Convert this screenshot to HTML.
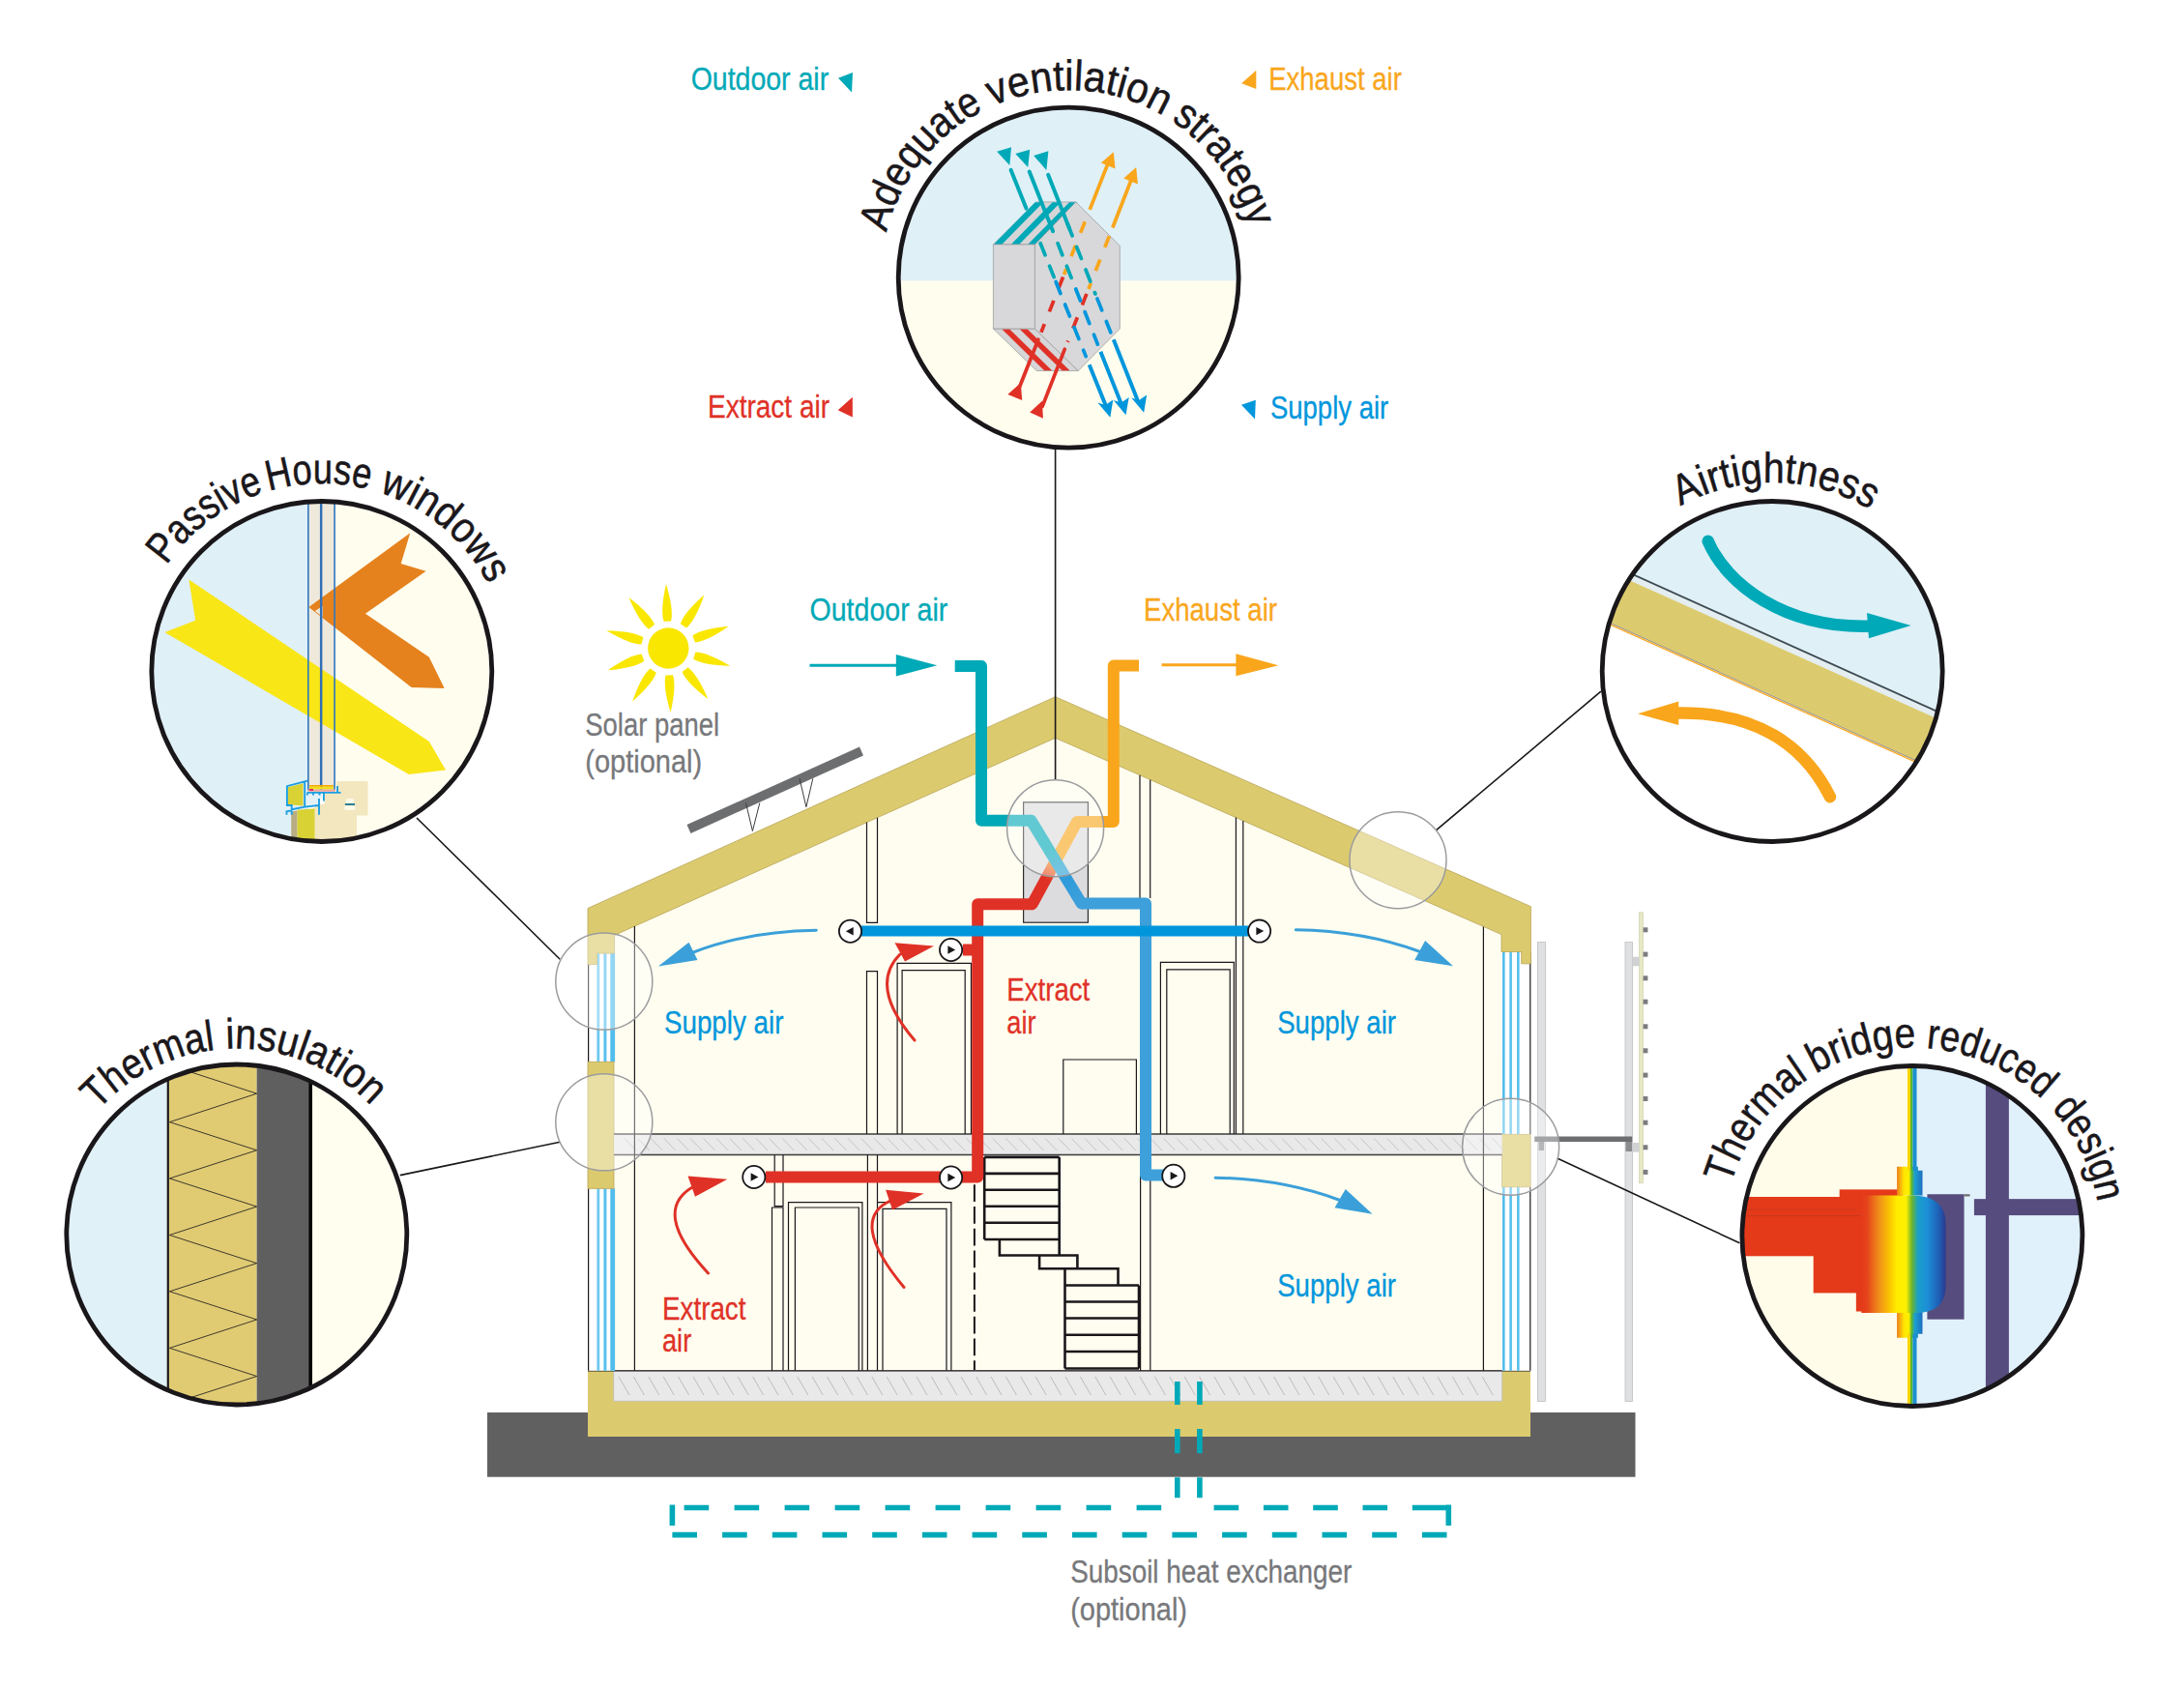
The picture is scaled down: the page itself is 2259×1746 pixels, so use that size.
<!DOCTYPE html>
<html><head><meta charset="utf-8"><title>Passive House principles</title>
<style>html,body{margin:0;padding:0;background:#fff}svg{display:block}</style></head>
<body><svg width="2259" height="1746" viewBox="0 0 2259 1746">
<rect width="2259" height="1746" fill="#fff"/>
<defs>
<linearGradient id="gTB" gradientUnits="userSpaceOnUse" x1="1065" y1="849" x2="1118" y2="935"><stop offset="0" stop-color="#00a9b7"/><stop offset="0.35" stop-color="#00a9b7"/><stop offset="0.7" stop-color="#2f9bdb"/><stop offset="1" stop-color="#3ea0da"/></linearGradient>
<linearGradient id="gOR" gradientUnits="userSpaceOnUse" x1="1114" y1="850" x2="1068" y2="935"><stop offset="0" stop-color="#f9a61c"/><stop offset="0.45" stop-color="#f9a61c"/><stop offset="0.7" stop-color="#e03127"/><stop offset="1" stop-color="#e03127"/></linearGradient>
</defs>
<rect x="504" y="1461" width="1187.5" height="66.7" fill="#616061"/>
<polygon points="635.5,1418 635.5,967.4 1091.6,763.3 1553,966.6 1553.6,1418" fill="#fffdef"/>
<rect x="608" y="1417.8" width="975" height="68.2" fill="#dccb6e"/>
<rect x="634.8" y="1417.8" width="918.9" height="31.4" fill="#e9e9ea" stroke="#bdbdbd" stroke-width="0.8"/>
<path d="M640.0 1424L651.0 1443M655.4 1424L666.4 1443M670.8 1424L681.8 1443M686.2 1424L697.2 1443M701.6 1424L712.6 1443M717.0 1424L728.0 1443M732.4 1424L743.4 1443M747.8 1424L758.8 1443M763.2 1424L774.2 1443M778.6 1424L789.6 1443M794.0 1424L805.0 1443M809.4 1424L820.4 1443M824.8 1424L835.8 1443M840.2 1424L851.2 1443M855.6 1424L866.6 1443M871.0 1424L882.0 1443M886.4 1424L897.4 1443M901.8 1424L912.8 1443M917.2 1424L928.2 1443M932.6 1424L943.6 1443M948.0 1424L959.0 1443M963.4 1424L974.4 1443M978.8 1424L989.8 1443M994.2 1424L1005.2 1443M1009.6 1424L1020.6 1443M1025.0 1424L1036.0 1443M1040.4 1424L1051.4 1443M1055.8 1424L1066.8 1443M1071.2 1424L1082.2 1443M1086.6 1424L1097.6 1443M1102.0 1424L1113.0 1443M1117.4 1424L1128.4 1443M1132.8 1424L1143.8 1443M1148.2 1424L1159.2 1443M1163.6 1424L1174.6 1443M1179.0 1424L1190.0 1443M1194.4 1424L1205.4 1443M1209.8 1424L1220.8 1443M1225.2 1424L1236.2 1443M1240.6 1424L1251.6 1443M1256.0 1424L1267.0 1443M1271.4 1424L1282.4 1443M1286.8 1424L1297.8 1443M1302.2 1424L1313.2 1443M1317.6 1424L1328.6 1443M1333.0 1424L1344.0 1443M1348.4 1424L1359.4 1443M1363.8 1424L1374.8 1443M1379.2 1424L1390.2 1443M1394.6 1424L1405.6 1443M1410.0 1424L1421.0 1443M1425.4 1424L1436.4 1443M1440.8 1424L1451.8 1443M1456.2 1424L1467.2 1443M1471.6 1424L1482.6 1443M1487.0 1424L1498.0 1443M1502.4 1424L1513.4 1443M1517.8 1424L1528.8 1443M1533.2 1424L1544.2 1443" stroke="#bcbcbc" stroke-width="1" fill="none"/>
<path d="M608 1417.8H1583" stroke="#1a171b" stroke-width="1.3"/>
<rect x="608" y="986.1" width="28" height="112.19999999999993" fill="#fff"/>
<rect x="617.4" y="986.1" width="2.8" height="112.19999999999993" fill="#6cc8f0"/>
<rect x="624.4" y="986.1" width="3" height="112.19999999999993" fill="#58c0ee"/>
<rect x="631.3" y="986.1" width="4.8" height="112.19999999999993" fill="#52bdec"/>
<path d="M608.6 986.1V1098.3" stroke="#1a171b" stroke-width="1.2"/>
<rect x="608" y="1229.3" width="28" height="188.5" fill="#fff"/>
<rect x="617.4" y="1229.3" width="2.8" height="188.5" fill="#6cc8f0"/>
<rect x="624.4" y="1229.3" width="3" height="188.5" fill="#58c0ee"/>
<rect x="631.3" y="1229.3" width="4.8" height="188.5" fill="#52bdec"/>
<path d="M608.6 1229.3V1417.8" stroke="#1a171b" stroke-width="1.2"/>
<rect x="1553.6" y="984.5" width="29.4" height="188.79999999999995" fill="#fff"/>
<rect x="1554" y="984.5" width="2.6" height="188.79999999999995" fill="#52bdec"/>
<rect x="1561.3" y="984.5" width="2.6" height="188.79999999999995" fill="#58c0ee"/>
<rect x="1569" y="984.5" width="2.6" height="188.79999999999995" fill="#58c0ee"/>
<path d="M1582.8 984.5V1173.3" stroke="#1a171b" stroke-width="1.2"/>
<rect x="1553.6" y="1227.8" width="29.4" height="190.0" fill="#fff"/>
<rect x="1554" y="1227.8" width="2.6" height="190.0" fill="#52bdec"/>
<rect x="1561.3" y="1227.8" width="2.6" height="190.0" fill="#58c0ee"/>
<rect x="1569" y="1227.8" width="2.6" height="190.0" fill="#58c0ee"/>
<path d="M1582.8 1227.8V1417.8" stroke="#1a171b" stroke-width="1.2"/>
<polygon points="608,939.5 1091.6,720.7 1583.4,937.7 1583.4,996.8 1573.7,996.8 1573.7,984.5 1553,984.5 1553,966.6 1091.6,763.3 635.5,967.4 635.5,986.1 617.4,986.1 617.4,997.6 608,997.6" fill="#dccb6e" stroke="#b9a457" stroke-width="0.8"/>
<rect x="608" y="1098.3" width="27" height="131" fill="#dccb6e" stroke="#b9a457" stroke-width="0.8"/>
<rect x="1553.6" y="1173.3" width="29.5" height="54.5" fill="#dccb6e" stroke="#b9a457" stroke-width="0.8"/>
<rect x="635" y="1173" width="918.6" height="21.5" fill="#e9e9ea"/>
<path d="M646.0 1177.5L658.0 1190M659.6 1177.5L671.6 1190M673.2 1177.5L685.2 1190M686.8 1177.5L698.8 1190M700.4 1177.5L712.4 1190M714.0 1177.5L726.0 1190M727.6 1177.5L739.6 1190M741.2 1177.5L753.2 1190M754.8 1177.5L766.8 1190M768.4 1177.5L780.4 1190M782.0 1177.5L794.0 1190M795.6 1177.5L807.6 1190M809.2 1177.5L821.2 1190M822.8 1177.5L834.8 1190M836.4 1177.5L848.4 1190M850.0 1177.5L862.0 1190M863.6 1177.5L875.6 1190M877.2 1177.5L889.2 1190M890.8 1177.5L902.8 1190M904.4 1177.5L916.4 1190M918.0 1177.5L930.0 1190M931.6 1177.5L943.6 1190M945.2 1177.5L957.2 1190M958.8 1177.5L970.8 1190M972.4 1177.5L984.4 1190M986.0 1177.5L998.0 1190M999.6 1177.5L1011.6 1190M1013.2 1177.5L1025.2 1190M1026.8 1177.5L1038.8 1190M1040.4 1177.5L1052.4 1190M1054.0 1177.5L1066.0 1190M1067.6 1177.5L1079.6 1190M1081.2 1177.5L1093.2 1190M1094.8 1177.5L1106.8 1190M1108.4 1177.5L1120.4 1190M1122.0 1177.5L1134.0 1190M1135.6 1177.5L1147.6 1190M1149.2 1177.5L1161.2 1190M1162.8 1177.5L1174.8 1190M1176.4 1177.5L1188.4 1190M1190.0 1177.5L1202.0 1190M1203.6 1177.5L1215.6 1190M1217.2 1177.5L1229.2 1190M1230.8 1177.5L1242.8 1190M1244.4 1177.5L1256.4 1190M1258.0 1177.5L1270.0 1190M1271.6 1177.5L1283.6 1190M1285.2 1177.5L1297.2 1190M1298.8 1177.5L1310.8 1190M1312.4 1177.5L1324.4 1190M1326.0 1177.5L1338.0 1190M1339.6 1177.5L1351.6 1190M1353.2 1177.5L1365.2 1190M1366.8 1177.5L1378.8 1190M1380.4 1177.5L1392.4 1190M1394.0 1177.5L1406.0 1190M1407.6 1177.5L1419.6 1190M1421.2 1177.5L1433.2 1190M1434.8 1177.5L1446.8 1190M1448.4 1177.5L1460.4 1190M1462.0 1177.5L1474.0 1190M1475.6 1177.5L1487.6 1190M1489.2 1177.5L1501.2 1190M1502.8 1177.5L1514.8 1190M1516.4 1177.5L1528.4 1190M1530.0 1177.5L1542.0 1190M1543.6 1177.5L1555.6 1190" stroke="#c4c4c4" stroke-width="1" fill="none"/>
<path d="M635 1173H1553.6M635 1194.5H1553.6" stroke="#3c3c3c" stroke-width="1.3" fill="none"/>
<path d="M656.4 958.1V1417.8M1534.4 958.4V1417.8M896.5 850.6V954.3H907.5V845.7M896.5 1173V1004.6H907.5V1173M1179 801.8V929M1189.7 806.5V929M1278.4 845.6V1173M1285.8 848.9V1173M928.1 1173V996.3H1004.5V1173M933.1 1173V1003.7H998.2V1173M1200.4 1173V995.4H1276.3V1173M1206.8 1173V1002.8H1272.2V1173M1099.8 1173V1096H1175.4V1173M801.2 1194.5V1247.7H810V1194.5M798.5 1417.8V1249H810V1417.8M897.4 1194.5V1417.8M907.5 1194.5V1417.8M815.5 1417.8V1243.6H891.9V1417.8M822.4 1417.8V1249H888.3V1417.8M907.5 1243.6H983.9V1417.8M913 1417.8V1250.4H979V1417.8M1179.6 1194.5V1417.8M1189.8 1194.5V1417.8" stroke="#1a171b" stroke-width="1.2" fill="none"/>
<path d="M1007.9 1225.2V1417" stroke="#1a171b" stroke-width="2" stroke-dasharray="17.8 4.95" fill="none"/>
<path d="M1018.2 1196.9H1095.7M1018.2 1213.9H1095.7M1018.2 1230.7H1095.7M1018.2 1247.7H1095.7M1018.2 1264.7H1095.7M1018.2 1282H1095.7M1018.2 1196.9V1282M1095.7 1196.9V1298.5M1033.9 1282V1298.5H1095.7M1075.1 1298.5V1312.3H1114.4V1298.5H1095.7M1101.5 1312.3V1415.5M1114.4 1312.3H1156.5V1329.5M1101.5 1329.5H1178M1101.5 1346.5H1178M1101.5 1363.5H1178M1101.5 1380.8H1178M1101.5 1398H1178M1101.5 1415.5H1178M1178 1329.5V1415.5" stroke="#1a171b" stroke-width="2.6" fill="none" stroke-linejoin="miter"/>
<rect x="1058.6" y="829.8" width="66.8" height="124.4" fill="#dcdcde" stroke="#2a2a2a" stroke-width="1.2"/>
<path d="M1067.7 935.2H1011.2V1217.5H792M996 982.5H1011.2" stroke="#e03127" stroke-width="12" fill="none" stroke-linejoin="round"/>
<path d="M1114 849.9L1067.7 935.2" stroke="url(#gOR)" stroke-width="12" fill="none" stroke-linecap="round"/>
<path d="M1178 688.6H1151.8V849.9H1114" stroke="#f9a61c" stroke-width="12" fill="none" stroke-linejoin="round"/>
<path d="M1066.5 848.7L1118.6 934.5" stroke="url(#gTB)" stroke-width="12" fill="none" stroke-linecap="round"/>
<path d="M987.7 689H1015V848.7H1066.5" stroke="#00a9b7" stroke-width="12" fill="none" stroke-linejoin="round"/>
<path d="M1118.6 934.5H1185V1215.6H1204" stroke="#3ea0da" stroke-width="12" fill="none" stroke-linejoin="round"/>
<path d="M891 963H1291" stroke="#0096dc" stroke-width="11" fill="none"/>
<circle cx="879.5" cy="963.2" r="11.6" fill="#fff" stroke="#1a171b" stroke-width="1.8"/>
<polygon points="882.7,959.0 882.7,967.4000000000001 874.9,963.2" fill="#1a171b"/>
<circle cx="1302.6" cy="963.1" r="11.6" fill="#fff" stroke="#1a171b" stroke-width="1.8"/>
<polygon points="1299.3999999999999,958.9 1299.3999999999999,967.3000000000001 1307.1999999999998,963.1" fill="#1a171b"/>
<circle cx="983.6" cy="982.5" r="11.6" fill="#fff" stroke="#1a171b" stroke-width="1.8"/>
<polygon points="980.4,978.3 980.4,986.7 988.2,982.5" fill="#1a171b"/>
<circle cx="779.8" cy="1217.5" r="11.6" fill="#fff" stroke="#1a171b" stroke-width="1.8"/>
<polygon points="776.5999999999999,1213.3 776.5999999999999,1221.7 784.4,1217.5" fill="#1a171b"/>
<circle cx="983.6" cy="1218" r="11.6" fill="#fff" stroke="#1a171b" stroke-width="1.8"/>
<polygon points="980.4,1213.8 980.4,1222.2 988.2,1218" fill="#1a171b"/>
<circle cx="1213.8" cy="1216.3" r="11.6" fill="#fff" stroke="#1a171b" stroke-width="1.8"/>
<polygon points="1210.6,1212.1 1210.6,1220.5 1218.3999999999999,1216.3" fill="#1a171b"/>
<path d="M844.3 962.3C800 963 755 970 716 985.5" stroke="#3ba0d9" stroke-width="3" fill="none" stroke-linecap="round"/>
<polygon points="712.5,974.8 721.5,993 680.9,999.6" fill="#3ba0d9"/>
<path d="M1340.4 961.8C1385 962.5 1430 970 1469 984.5" stroke="#3ba0d9" stroke-width="3" fill="none" stroke-linecap="round"/>
<polygon points="1474.1,973 1463.2,992.9 1503,999.3" fill="#3ba0d9"/>
<path d="M1257.1 1218.2C1302 1219 1347 1227 1386 1241.5" stroke="#3ba0d9" stroke-width="3" fill="none" stroke-linecap="round"/>
<polygon points="1391.7,1230 1380.5,1249.3 1419.6,1255.7" fill="#3ba0d9"/>
<path d="M946 1076Q898 1020 931 987" stroke="#e03127" stroke-width="3" fill="none" stroke-linecap="round"/>
<polygon points="925.5,975.2 936,994.6 966,978.5" fill="#e03127"/>
<path d="M732.5 1316.9Q672 1252 718 1227" stroke="#e03127" stroke-width="3" fill="none" stroke-linecap="round"/>
<polygon points="711.5,1216.5 719,1237.7 752.3,1219.7" fill="#e03127"/>
<path d="M935 1331.5Q877 1262 921 1242" stroke="#e03127" stroke-width="3" fill="none" stroke-linecap="round"/>
<polygon points="916.1,1230.8 923.1,1251.4 955.6,1234.5" fill="#e03127"/>
<path d="M837.5 688.3H930" stroke="#00a9b7" stroke-width="3" fill="none"/><polygon points="926.8,677 926.8,699.6 969.3,688.3" fill="#00a9b7"/>
<path d="M1201.5 687.7H1282" stroke="#f9a61c" stroke-width="3" fill="none"/><polygon points="1278.4,676.2 1278.4,699.2 1322.4,688.3" fill="#f9a61c"/>
<circle cx="691.3" cy="670.5" r="21.2" fill="#f9e700"/>
<path d="M-3.8 -28Q-7 -40 0 -66.5Q7 -40 3.8 -28Z" fill="#f9e700" transform="translate(691.3,670.5) rotate(-2)"/>
<path d="M-3.8 -28Q-7 -40 0 -66.5Q7 -40 3.8 -28Z" fill="#f9e700" transform="translate(691.3,670.5) rotate(34)"/>
<path d="M-3.8 -28Q-7 -40 0 -66.5Q7 -40 3.8 -28Z" fill="#f9e700" transform="translate(691.3,670.5) rotate(70)"/>
<path d="M-3.8 -28Q-7 -40 0 -66.5Q7 -40 3.8 -28Z" fill="#f9e700" transform="translate(691.3,670.5) rotate(106)"/>
<path d="M-3.8 -28Q-7 -40 0 -66.5Q7 -40 3.8 -28Z" fill="#f9e700" transform="translate(691.3,670.5) rotate(142)"/>
<path d="M-3.8 -28Q-7 -40 0 -66.5Q7 -40 3.8 -28Z" fill="#f9e700" transform="translate(691.3,670.5) rotate(178)"/>
<path d="M-3.8 -28Q-7 -40 0 -66.5Q7 -40 3.8 -28Z" fill="#f9e700" transform="translate(691.3,670.5) rotate(214)"/>
<path d="M-3.8 -28Q-7 -40 0 -66.5Q7 -40 3.8 -28Z" fill="#f9e700" transform="translate(691.3,670.5) rotate(250)"/>
<path d="M-3.8 -28Q-7 -40 0 -66.5Q7 -40 3.8 -28Z" fill="#f9e700" transform="translate(691.3,670.5) rotate(286)"/>
<path d="M-3.8 -28Q-7 -40 0 -66.5Q7 -40 3.8 -28Z" fill="#f9e700" transform="translate(691.3,670.5) rotate(322)"/>
<path d="M712.5 857.5L891 777" stroke="#6d6e70" stroke-width="9.6" fill="none"/>
<path d="M771.5 830.6L778.4 859.5L785.8 830.6M827 805.3L833.9 834.7L840.8 805.3" stroke="#3c3c3c" stroke-width="1" fill="none"/>
<rect x="1590.4" y="974.6" width="8" height="475" fill="#dfe0e2" stroke="#bfc0c2" stroke-width="0.8"/>
<rect x="1681" y="974.6" width="7.6" height="475" fill="#dfe0e2" stroke="#bfc0c2" stroke-width="0.8"/>
<rect x="1695.6" y="943.8" width="3.8" height="280" fill="#e6e8c4" stroke="#c9cba6" stroke-width="0.6"/>
<rect x="1699.6" y="959.3" width="4.8" height="5" fill="#7b7c7e"/>
<rect x="1699.6" y="984.6" width="4.8" height="5" fill="#7b7c7e"/>
<rect x="1699.6" y="1009.3" width="4.8" height="5" fill="#7b7c7e"/>
<rect x="1699.6" y="1033.7" width="4.8" height="5" fill="#7b7c7e"/>
<rect x="1699.6" y="1059.3" width="4.8" height="5" fill="#7b7c7e"/>
<rect x="1699.6" y="1084.3" width="4.8" height="5" fill="#7b7c7e"/>
<rect x="1699.6" y="1109.6" width="4.8" height="5" fill="#7b7c7e"/>
<rect x="1699.6" y="1134.0" width="4.8" height="5" fill="#7b7c7e"/>
<rect x="1699.6" y="1158.7" width="4.8" height="5" fill="#7b7c7e"/>
<rect x="1699.6" y="1184.3" width="4.8" height="5" fill="#7b7c7e"/>
<rect x="1699.6" y="1209.9" width="4.8" height="5" fill="#7b7c7e"/>
<rect x="1688.4" y="989.7" width="7.2" height="9.6" fill="#d0d1d3"/><rect x="1688.4" y="1182" width="7.2" height="9.6" fill="#d0d1d3"/>
<path d="M1587.2 1178.3H1688.2" stroke="#6d6e70" stroke-width="5.4" fill="none"/>
<rect x="1591.5" y="1181" width="5.5" height="9" fill="#8a8b8d"/><rect x="1681.5" y="1181" width="6.5" height="10" fill="#8a8b8d"/>
<path d="M707.6 1559.5h25.6M759.6 1559.5h25.6M811.6 1559.5h25.6M863.6 1559.5h25.6M915.6 1559.5h25.6M967.6 1559.5h25.6M1019.6 1559.5h25.6M1071.6 1559.5h25.6M1123.6 1559.5h25.6M1175.6 1559.5h25.6M1255.6 1559.5h25.6M1306.9 1559.5h25.6M1358.2 1559.5h25.6M1409.5 1559.5h25.6M1460.8 1559.5H1498.3M695.4 1587.6h25.6M747.1 1587.6h25.6M798.8 1587.6h25.6M850.5 1587.6h25.6M902.2 1587.6h25.6M953.9 1587.6h25.6M1005.6 1587.6h25.6M1057.3 1587.6h25.6M1109.0 1587.6h25.6M1160.7 1587.6h25.6M1212.4 1587.6h25.6M1264.1 1587.6h25.6M1315.8 1587.6h25.6M1367.5 1587.6h25.6M1419.2 1587.6h25.6M1470.9 1587.6h25.6M695.4 1556.6V1578M1498.3 1556.6V1578M1217.8 1429V1453M1217.8 1478V1503.3M1217.8 1528.3V1549.2M1240.9 1429V1453M1240.9 1478V1503.3M1240.9 1528.3V1549.2" stroke="#00a9b7" stroke-width="5.6" fill="none"/>
<defs>
<clipPath id="c_top"><circle cx="1105.2" cy="287.2" r="176.0"/></clipPath>
<clipPath id="c_win"><circle cx="332.8" cy="694.5" r="176.0"/></clipPath>
<clipPath id="c_ins"><circle cx="244.8" cy="1277" r="176.0"/></clipPath>
<clipPath id="c_air"><circle cx="1833.2" cy="694.5" r="176.0"/></clipPath>
<clipPath id="c_tb"><circle cx="1977.9" cy="1278.5" r="176.0"/></clipPath>
<linearGradient id="gHeat" gradientUnits="userSpaceOnUse" x1="680" x2="1000" y1="0" y2="0"><stop offset="0" stop-color="#e43a1a"/><stop offset="0.07" stop-color="#e5441a"/><stop offset="0.2" stop-color="#f08a1a"/><stop offset="0.34" stop-color="#fbc800"/><stop offset="0.42" stop-color="#ffec00"/><stop offset="0.53" stop-color="#fff000"/><stop offset="0.6" stop-color="#6ab42d"/><stop offset="0.67" stop-color="#1aa0c8"/><stop offset="0.78" stop-color="#1d8fd8"/><stop offset="0.92" stop-color="#1f5fb5"/><stop offset="1" stop-color="#2a3a8f"/></linearGradient>
<linearGradient id="gHeat2" gradientUnits="userSpaceOnUse" x1="815" x2="912" y1="0" y2="0"><stop offset="0" stop-color="#ee7f1a"/><stop offset="0.28" stop-color="#ffe500"/><stop offset="0.46" stop-color="#fff000"/><stop offset="0.58" stop-color="#5bb531"/><stop offset="0.7" stop-color="#1b9fd0"/><stop offset="1" stop-color="#1c6fc0"/></linearGradient>
</defs>
<g clip-path="url(#c_top)"><g transform="translate(900,80) scale(0.24882)">
<rect x="0" y="0" width="1700" height="846" fill="#dff0f7"/><rect x="0" y="846" width="1700" height="900" fill="#fffdee"/>
<polygon points="512,695 690,518 855,518 685,695" fill="#d6d6d8" stroke="#9a9a9c" stroke-width="3"/>
<polygon points="514,694 548,694 720,519 686,519" fill="#00a9b7"/>
<polygon points="586,694 620,694 792,519 758,519" fill="#00a9b7"/>
<polygon points="656,694 690,694 862,519 828,519" fill="#00a9b7"/>
<polygon points="512,1045 685,1045 865,1220 692,1220" fill="#d6d6d8" stroke="#9a9a9c" stroke-width="3"/>
<polygon points="548,1047 580,1047 756,1219 724,1219" fill="#e03127"/>
<polygon points="622,1047 654,1047 830,1219 798,1219" fill="#e03127"/>
<polygon points="512,695 685,695 685,1045 512,1045" fill="#d8d8da" stroke="#9a9a9c" stroke-width="3"/>
<polygon points="685,695 855,518 1038,700 1038,1045 865,1220 685,1045" fill="#d8d8da" stroke="#9a9a9c" stroke-width="3"/>
<path d="M699 1090L620 1290M809 1130L716 1368" stroke="#e03127" stroke-width="15" fill="none" stroke-linecap="round"/>
<polygon points="572,1318 632,1342 626,1270" fill="#e03127"/><polygon points="664,1393 719,1418 715,1345" fill="#e03127"/>
<path d="M893 600L806 820M994 660L908 880" stroke="#f9a61c" stroke-width="15" fill="none" stroke-dasharray="50 55"/>
<path d="M802 830L711 1060M900 900L821 1100" stroke="#e03127" stroke-width="15" fill="none" stroke-dasharray="50 55"/>
<path d="M991 352L913 550M1091 412L1008 625" stroke="#f9a61c" stroke-width="15" fill="none"/>
<polygon points="1012,310 960,356 1019,380" fill="#f9a61c"/><polygon points="1106,374 1054,420 1113,444" fill="#f9a61c"/>
<path d="M708 690L764 830M780 690L847 860M821 610L936 900" stroke="#00a9b7" stroke-width="15" fill="none" stroke-dasharray="52 50" stroke-linecap="round"/>
<path d="M772 850L897 1160M855 880L946 1110M944 920L1000 1060" stroke="#0096dc" stroke-width="15" fill="none" stroke-dasharray="52 50" stroke-linecap="round"/>
<path d="M585 385L649 545M662 392L760 640M740 405L829 630" stroke="#00a9b7" stroke-width="16" fill="none" stroke-linecap="round"/>
<polygon points="527,308 587,290 580,366" fill="#00a9b7"/><polygon points="604,318 664,300 656,374" fill="#00a9b7"/><polygon points="680,326 741,306 733,386" fill="#00a9b7"/>
<path d="M911 1195L982 1370M958 1140L1047 1365M1012 1090L1117 1355" stroke="#0096dc" stroke-width="16" fill="none"/>
<polygon points="998,1414 946,1352 978,1362 1010,1340" fill="#0096dc"/><polygon points="1063,1404 1012,1342 1044,1352 1076,1330" fill="#0096dc"/><polygon points="1138,1394 1086,1332 1118,1342 1150,1320" fill="#0096dc"/>
</g></g>
<circle cx="1105.2" cy="287.2" r="176.0" fill="none" stroke="#1a171b" stroke-width="4.8"/>
<g clip-path="url(#c_win)"><g transform="translate(100,440) scale(0.27248)">
<rect x="0" y="0" width="803" height="1700" fill="#dff0f7"/><rect x="803" y="0" width="100" height="1395" fill="#efe9dc"/><rect x="903" y="0" width="1000" height="1700" fill="#fffdee"/>
<polygon points="350,585 1262,1200 1325,1308 1185,1325 258,785 375,740" fill="#f9e616"/>
<polygon points="1190,408 1155,525 1250,553 1020,715 1262,880 1320,998 1195,995 805,690" fill="#e5821e"/><polygon points="829,705 858,685 858,728" fill="#efe9dc"/>
<path d="M803 0V1385M903 0V1385" stroke="#2f78c0" stroke-width="6" fill="none"/><path d="M852 0V1383" stroke="#2f6fb8" stroke-width="9" fill="none"/>
</g>
<polygon points="348.1,808.1 380.5,808.1 380.5,843.6 369.0,843.6 369.0,872.4 325.6,872.4 325.6,831.8 335.5,831.8 335.5,820.8 348.1,820.8" fill="#f2e7bf"/>
<polygon points="358.0,826.3 365.7,826.3 365.7,830.7 358.0,830.7" fill="#fffbea"/><polygon points="356.4,833.4 367.4,833.4 367.4,837.8 356.4,837.8" fill="#fffbea"/>
<path d="M356.9 832.0L367.1 832.0" stroke="#2d7f96" stroke-width="1.8" fill="none"/>
<polygon points="301.2,839.5 307.5,838.4 307.5,872.4 301.2,872.4" fill="#b9ad83"/>
<polygon points="307.5,837.8 325.6,836.2 325.6,872.4 307.5,872.4" fill="#d9d235"/>
<polygon points="297.6,814.2 313.5,810.3 313.5,833.4 297.6,832.3" fill="#d9d235"/>
<polygon points="316.0,820.8 332.7,820.8 332.7,825.7 329.5,825.7 329.5,833.4 316.0,835.1" fill="#e4f1f7"/>
<polygon points="320.1,812.0 344.8,812.0 344.8,813.7 320.1,813.7" fill="#f7a600"/><polygon points="320.1,813.7 344.8,813.7 344.8,816.5 320.1,816.5" fill="#efe11a"/><polygon points="318.5,816.5 347.0,816.5 347.0,818.7 318.5,818.7" fill="#f0a6a0"/><polygon points="320.1,816.0 324.0,816.0 324.0,817.8 320.1,817.8" fill="#e5175a"/>
<path d="M317.9 807.7L296.9 813.2L296.9 833.0L301.7 833.0L301.7 837.3L315.2 834.6L329.7 833.0M315.2 809.0L315.2 834.2M317.4 819.9L352.5 819.9M349.0 813.1L349.0 819.9M334.9 820.8L334.9 828.5M330.0 826.0L330.0 842.7M317.9 820.8L317.9 822.4M324.0 820.8L324.0 822.4M330.5 820.8L330.5 822.4M301.7 837.3L301.7 842.7M296.5 842.7L296.5 839.2L301.7 838.4" stroke="#1b9ee0" stroke-width="1.9" fill="none" stroke-linejoin="miter"/>
</g>
<circle cx="332.8" cy="694.5" r="176.0" fill="none" stroke="#1a171b" stroke-width="4.8"/>
<g clip-path="url(#c_ins)"><g transform="translate(40,1020) scale(0.27248)">
<rect x="0" y="0" width="494" height="1700" fill="#e0f1f8"/><rect x="494" y="0" width="334" height="1700" fill="#e0cb73"/><rect x="828" y="0" width="204" height="1700" fill="#605f60"/><rect x="1032" y="0" width="900" height="1700" fill="#fffeef"/>
<path d="M497 300L828 408L497 516L828 623L497 730L828 837L497 945L828 1052L497 1159L828 1266L497 1374L828 1481L497 1588" stroke="#1a171b" stroke-width="3" fill="none"/>
<path d="M491 0V1700" stroke="#1a171b" stroke-width="8"/><path d="M1032 0V1700" stroke="#050505" stroke-width="13"/>
</g></g>
<circle cx="244.8" cy="1277" r="176.0" fill="none" stroke="#1a171b" stroke-width="4.8"/>
<g clip-path="url(#c_air)"><g transform="translate(1600,440) scale(0.27248)">
<rect x="0" y="0" width="1835" height="1700" fill="#fff"/>
<polygon points="0,0 1835,0 1835,1243 0,417" fill="#dff0f7"/>
<polygon points="0,419 1835,1245 1835,1275 0,449" fill="#e4eef1"/>
<path d="M0 419L1835 1245" stroke="#3d4a52" stroke-width="7" fill="none"/>
<polygon points="0,447 1835,1273 1835,1466 0,640" fill="#dccb6e"/>
<path d="M0 642L1835 1468" stroke="#9d9480" stroke-width="4" fill="none"/>
<path d="M0 648L1835 1474" stroke="#f7a823" stroke-width="5" fill="none"/>
<path d="M612 440C680 600 900 775 1235 762" stroke="#00a9b7" stroke-width="46" fill="none" stroke-linecap="round"/><polygon points="1215,712 1382,760 1222,808" fill="#00a9b7"/>
<path d="M1075 1410C980 1220 800 1085 490 1092" stroke="#f9a61c" stroke-width="46" fill="none" stroke-linecap="round"/><polygon points="500,1048 345,1095 500,1138" fill="#f9a61c"/>
</g></g>
<circle cx="1833.2" cy="694.5" r="176.0" fill="none" stroke="#1a171b" stroke-width="4.8"/>
<g clip-path="url(#c_tb)"><g transform="translate(1740,1020) scale(0.27248)">
<rect x="0" y="0" width="860" height="1700" fill="#fffcea"/><rect x="860" y="0" width="1000" height="1700" fill="#e0f1fb"/>
<rect x="1152" y="0" width="88" height="1700" fill="#564c7d"/><rect x="1108" y="808" width="420" height="62" fill="#564c7d"/><rect x="930" y="790" width="140" height="475" fill="#564c7d"/>
<rect x="1070" y="790" width="22" height="8" fill="#6b6b6b"/>
<rect x="200" y="800" width="520" height="225" fill="#e43a1a"/><rect x="597" y="772" width="240" height="40" fill="#e43a1a"/><rect x="498" y="1020" width="200" height="145" fill="#e43a1a"/><rect x="660" y="1160" width="180" height="75" fill="#e43a1a"/>
<path d="M240 848H660M240 872H715V1025" stroke="#b5351c" stroke-width="2" fill="none"/>
<path d="M815 685H895V700H912V795H815Z" fill="url(#gHeat2)"/><path d="M815 1335H895V1320H912V1230H815Z" fill="url(#gHeat2)"/>
<path d="M680 795H880Q1000 800 1000 900V1140Q1000 1238 890 1240H680Z" fill="url(#gHeat)"/>
<rect x="855" y="0" width="11" height="700" fill="#f7d500"/><rect x="866" y="0" width="9" height="700" fill="#5bb531"/><rect x="875" y="0" width="15" height="700" fill="#1b8fd0"/>
<rect x="855" y="1320" width="11" height="400" fill="#f7d500"/><rect x="866" y="1320" width="9" height="400" fill="#5bb531"/><rect x="875" y="1320" width="15" height="400" fill="#1b8fd0"/>
</g></g>
<circle cx="1977.9" cy="1278.5" r="176.0" fill="none" stroke="#1a171b" stroke-width="4.8"/>
<path d="M1091.6 464.5V807M431 846L579.2 992.2M413.8 1215.6L579.2 1181.2M1655.9 715.2L1485.3 858.9M1799.4 1285.7L1610.6 1198" stroke="#1a171b" stroke-width="1.6" fill="none"/>
<circle cx="1091.6" cy="856.7" r="50" fill="#fff" fill-opacity="0.38" stroke="#9b9c9e" stroke-width="1.5"/>
<circle cx="624.8" cy="1015.1" r="50" fill="#fff" fill-opacity="0.38" stroke="#9b9c9e" stroke-width="1.5"/>
<circle cx="624.8" cy="1160.8" r="50" fill="#fff" fill-opacity="0.38" stroke="#9b9c9e" stroke-width="1.5"/>
<circle cx="1446" cy="889.7" r="50" fill="#fff" fill-opacity="0.38" stroke="#9b9c9e" stroke-width="1.5"/>
<circle cx="1562.6" cy="1186.2" r="50" fill="#fff" fill-opacity="0.38" stroke="#9b9c9e" stroke-width="1.5"/>
<path id="t_top0" d="M916.9 240.6A194 194 0 0 1 1017.4 114.2" fill="none"/>
<text font-family="Liberation Sans, Arial, sans-serif" font-size="44" fill="#1a171b" stroke="#1a171b" stroke-width="0.55" textLength="166.6" lengthAdjust="spacingAndGlyphs"><textPath href="#t_top0">Adequate</textPath></text>
<path id="t_top1" d="M1026.6 109.8A194 194 0 0 1 1203.1 119.7" fill="none"/>
<text font-family="Liberation Sans, Arial, sans-serif" font-size="44" fill="#1a171b" stroke="#1a171b" stroke-width="0.55" textLength="183.5" lengthAdjust="spacingAndGlyphs"><textPath href="#t_top1">ventilation</textPath></text>
<path id="t_top2" d="M1211.1 124.7A194 194 0 0 1 1292.1 235.4" fill="none"/>
<text font-family="Liberation Sans, Arial, sans-serif" font-size="44" fill="#1a171b" stroke="#1a171b" stroke-width="0.55" textLength="140.2" lengthAdjust="spacingAndGlyphs"><textPath href="#t_top2">strategy</textPath></text>
<path id="t_win0" d="M172.3 584.6A194.5 194.5 0 0 1 273.0 509.4" fill="none"/>
<text font-family="Liberation Sans, Arial, sans-serif" font-size="44" fill="#1a171b" stroke="#1a171b" stroke-width="0.55" textLength="128.0" lengthAdjust="spacingAndGlyphs"><textPath href="#t_win0">Passive</textPath></text>
<path id="t_win1" d="M278.2 507.8A194.5 194.5 0 0 1 381.5 506.2" fill="none"/>
<text font-family="Liberation Sans, Arial, sans-serif" font-size="44" fill="#1a171b" stroke="#1a171b" stroke-width="0.55" textLength="104.6" lengthAdjust="spacingAndGlyphs"><textPath href="#t_win1">House</textPath></text>
<path id="t_win2" d="M391.9 509.2A194.5 194.5 0 0 1 505.3 604.7" fill="none"/>
<text font-family="Liberation Sans, Arial, sans-serif" font-size="44" fill="#1a171b" stroke="#1a171b" stroke-width="0.55" textLength="152.1" lengthAdjust="spacingAndGlyphs"><textPath href="#t_win2">windows</textPath></text>
<path id="t_ins0" d="M101.5 1148.4A192.5 192.5 0 0 1 222.7 1085.8" fill="none"/>
<text font-family="Liberation Sans, Arial, sans-serif" font-size="44" fill="#1a171b" stroke="#1a171b" stroke-width="0.55" textLength="139.4" lengthAdjust="spacingAndGlyphs"><textPath href="#t_ins0">Thermal</textPath></text>
<path id="t_ins1" d="M234.1 1084.8A192.5 192.5 0 0 1 383.7 1143.8" fill="none"/>
<text font-family="Liberation Sans, Arial, sans-serif" font-size="44" fill="#1a171b" stroke="#1a171b" stroke-width="0.55" textLength="166.0" lengthAdjust="spacingAndGlyphs"><textPath href="#t_ins1">insulation</textPath></text>
<path id="t_air0" d="M1738.4 523.5A195.5 195.5 0 0 1 1934.2 527.1" fill="none"/>
<text font-family="Liberation Sans, Arial, sans-serif" font-size="44" fill="#1a171b" stroke="#1a171b" stroke-width="0.55" textLength="205.1" lengthAdjust="spacingAndGlyphs"><textPath href="#t_air0">Airtightness</textPath></text>
<path id="t_tb0" d="M1790.4 1225.1A195 195 0 0 1 1870.8 1115.5" fill="none"/>
<text font-family="Liberation Sans, Arial, sans-serif" font-size="44" fill="#1a171b" stroke="#1a171b" stroke-width="0.55" textLength="138.9" lengthAdjust="spacingAndGlyphs"><textPath href="#t_tb0">Thermal</textPath></text>
<path id="t_tb1" d="M1878.3 1110.8A195 195 0 0 1 1981.6 1083.5" fill="none"/>
<text font-family="Liberation Sans, Arial, sans-serif" font-size="44" fill="#1a171b" stroke="#1a171b" stroke-width="0.55" textLength="108.2" lengthAdjust="spacingAndGlyphs"><textPath href="#t_tb1">bridge</textPath></text>
<path id="t_tb2" d="M1992.2 1084.0A195 195 0 0 1 2112.1 1137.1" fill="none"/>
<text font-family="Liberation Sans, Arial, sans-serif" font-size="44" fill="#1a171b" stroke="#1a171b" stroke-width="0.55" textLength="133.8" lengthAdjust="spacingAndGlyphs"><textPath href="#t_tb2">reduced</textPath></text>
<path id="t_tb3" d="M2121.7 1146.8A195 195 0 0 1 2169.8 1243.6" fill="none"/>
<text font-family="Liberation Sans, Arial, sans-serif" font-size="44" fill="#1a171b" stroke="#1a171b" stroke-width="0.55" textLength="109.6" lengthAdjust="spacingAndGlyphs"><textPath href="#t_tb3">design</textPath></text>
<text x="714.7" y="92.6" font-family="Liberation Sans, Arial, sans-serif" font-size="33" fill="#00a9b7" stroke="#00a9b7" stroke-width="0.3" textLength="142.5" lengthAdjust="spacingAndGlyphs">Outdoor air</text>
<polygon points="867,80.8 882,75 881,95.4" fill="#00a9b7"/>
<text x="1312.2" y="93.2" font-family="Liberation Sans, Arial, sans-serif" font-size="33" fill="#f9a61c" stroke="#f9a61c" stroke-width="0.3" textLength="137.7" lengthAdjust="spacingAndGlyphs">Exhaust air</text>
<polygon points="1284.2,86.3 1299.3,72.7 1299.3,91.9" fill="#f9a61c"/>
<text x="732" y="431.6" font-family="Liberation Sans, Arial, sans-serif" font-size="33" fill="#e03127" stroke="#e03127" stroke-width="0.3" textLength="126" lengthAdjust="spacingAndGlyphs">Extract air</text>
<polygon points="866.7,424.3 881.8,410.7 881.8,431.4" fill="#e03127"/>
<text x="1313.9" y="433.4" font-family="Liberation Sans, Arial, sans-serif" font-size="33" fill="#0096dc" stroke="#0096dc" stroke-width="0.3" textLength="122.4" lengthAdjust="spacingAndGlyphs">Supply air</text>
<polygon points="1284,418.8 1298.8,413.7 1298,433.6" fill="#0096dc"/>
<text x="837.5" y="642.4" font-family="Liberation Sans, Arial, sans-serif" font-size="33" fill="#00a9b7" stroke="#00a9b7" stroke-width="0.3" textLength="142.8" lengthAdjust="spacingAndGlyphs">Outdoor air</text>
<text x="1183" y="642.4" font-family="Liberation Sans, Arial, sans-serif" font-size="33" fill="#f9a61c" stroke="#f9a61c" stroke-width="0.3" textLength="138" lengthAdjust="spacingAndGlyphs">Exhaust air</text>
<text x="605.3" y="760.5" font-family="Liberation Sans, Arial, sans-serif" font-size="33" fill="#77787b" stroke="#77787b" stroke-width="0.3" textLength="138.7" lengthAdjust="spacingAndGlyphs">Solar panel</text>
<text x="605.3" y="799" font-family="Liberation Sans, Arial, sans-serif" font-size="33" fill="#77787b" stroke="#77787b" stroke-width="0.3" textLength="120.9" lengthAdjust="spacingAndGlyphs">(optional)</text>
<text x="686.9" y="1069.1" font-family="Liberation Sans, Arial, sans-serif" font-size="33" fill="#0096dc" stroke="#0096dc" stroke-width="0.3" textLength="123.6" lengthAdjust="spacingAndGlyphs">Supply air</text>
<text x="1321.2" y="1069.2" font-family="Liberation Sans, Arial, sans-serif" font-size="33" fill="#0096dc" stroke="#0096dc" stroke-width="0.3" textLength="122.8" lengthAdjust="spacingAndGlyphs">Supply air</text>
<text x="1321.2" y="1341" font-family="Liberation Sans, Arial, sans-serif" font-size="33" fill="#0096dc" stroke="#0096dc" stroke-width="0.3" textLength="122.8" lengthAdjust="spacingAndGlyphs">Supply air</text>
<text x="1041.3" y="1034.8" font-family="Liberation Sans, Arial, sans-serif" font-size="33" fill="#e03127" stroke="#e03127" stroke-width="0.3" textLength="86" lengthAdjust="spacingAndGlyphs">Extract</text>
<text x="1041.3" y="1068.6" font-family="Liberation Sans, Arial, sans-serif" font-size="33" fill="#e03127" stroke="#e03127" stroke-width="0.3" textLength="30.2" lengthAdjust="spacingAndGlyphs">air</text>
<text x="685" y="1365" font-family="Liberation Sans, Arial, sans-serif" font-size="33" fill="#e03127" stroke="#e03127" stroke-width="0.3" textLength="86.5" lengthAdjust="spacingAndGlyphs">Extract</text>
<text x="685" y="1398" font-family="Liberation Sans, Arial, sans-serif" font-size="33" fill="#e03127" stroke="#e03127" stroke-width="0.3" textLength="30.2" lengthAdjust="spacingAndGlyphs">air</text>
<text x="1107.2" y="1636.9" font-family="Liberation Sans, Arial, sans-serif" font-size="33" fill="#77787b" stroke="#77787b" stroke-width="0.3" textLength="291.1" lengthAdjust="spacingAndGlyphs">Subsoil heat exchanger</text>
<text x="1107.2" y="1675.8" font-family="Liberation Sans, Arial, sans-serif" font-size="33" fill="#77787b" stroke="#77787b" stroke-width="0.3" textLength="120.8" lengthAdjust="spacingAndGlyphs">(optional)</text>
</svg></body></html>
